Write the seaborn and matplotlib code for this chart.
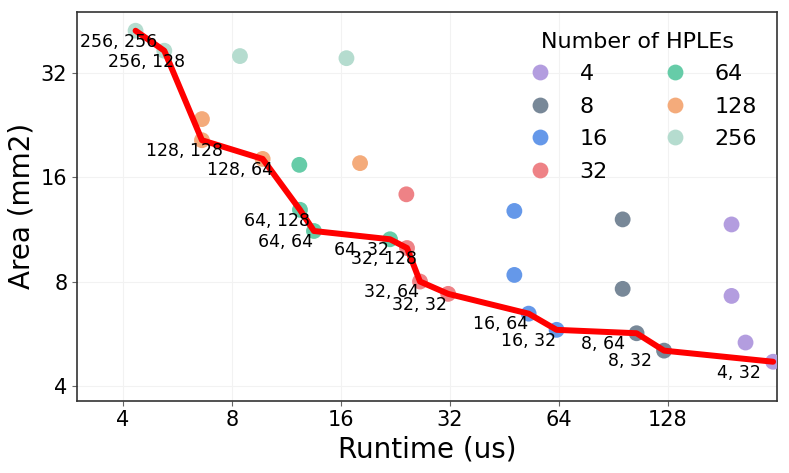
import pandas as pd
import seaborn as sns
import matplotlib
matplotlib.use("Agg")
import matplotlib.pyplot as plt

# design points: number of HPLEs, runtime (us), area (mm2)
hples = [256, 256, 256, 256,
         128, 128, 128, 128,
         64, 64, 64, 64,
         32, 32, 32, 32,
         16, 16, 16, 16,
         8, 8, 8, 8,
         4, 4, 4, 4]
runtime = [4.34, 5.21, 8.43, 16.6,
           6.62, 6.62, 9.74, 18.1,
           12.3, 12.35, 13.5, 21.9,
           24.3, 24.4, 26.5, 31.7,
           48.3, 48.3, 52.9, 63.2,
           96.2, 96.2, 105.1, 125.2,
           192.3, 192.3, 210.2, 250.5]
area = [42.5, 37.2, 35.9, 35.4,
        23.6, 20.5, 18.1, 17.6,
        17.4, 12.9, 11.2, 10.6,
        14.3, 10.0, 8.0, 7.37,
        12.8, 8.36, 6.46, 5.80,
        12.1, 7.62, 5.67, 5.05,
        11.7, 7.27, 5.33, 4.69]

# pareto frontier
front_runtime = [4.34, 5.21, 6.62, 9.74, 12.35, 13.5, 21.9, 24.4, 26.5, 31.7, 52.9, 63.2, 105.1, 125.2, 250.5]
front_area = [42.5, 37.2, 20.5, 18.1, 12.9, 11.2, 10.6, 10.0, 8.0, 7.37, 6.46, 5.80, 5.67, 5.05, 4.69]
front_labels = ["256, 256", "256, 128", "128, 128", "128, 64", "64, 128", "64, 64", "64, 32",
                "32, 128", "32, 64", "32, 32", "16, 64", "16, 32", "8, 64", "8, 32", "4, 32"]

hple_order = ["4", "8", "16", "32", "64", "128", "256"]
colors = ["#b39ddf", "#788898", "#6598e9", "#ee8286", "#66cca8", "#f4ab7b", "#b5dccf"]
x_ticks = [4, 8, 16, 32, 64, 128]
y_ticks = [4, 8, 16, 32]

sns.set_style("white", rc={'text.color': 'black', 'axes.labelcolor': 'black',
                           'xtick.color': 'black', 'ytick.color': 'black'})
plt.rcParams['font.family'] = ['DejaVu Sans']

df = pd.DataFrame({'hple': [str(h) for h in hples], 'runtime': runtime, 'area': area})
front = pd.DataFrame({'runtime': front_runtime, 'area': front_area})

fig, ax = plt.subplots(figsize=(7.89, 4.73), dpi=100)
fig.subplots_adjust(left=0.0976, right=0.9848, bottom=0.153, top=0.975)

sns.scatterplot(data=df, x='runtime', y='area', hue='hple', hue_order=hple_order,
                palette=dict(zip(hple_order, colors)), s=130, linewidth=0, ax=ax, zorder=3)
sns.lineplot(data=front, x='runtime', y='area', color='red', lw=4.3, sort=False,
             estimator=None, ax=ax, zorder=4)

for x, y, lab in zip(front_runtime, front_area, front_labels):
    ax.text(x * 0.7, y * 0.9, lab, fontsize=12.5, color='black', zorder=5)

ax.set_xscale('log', base=2)
ax.set_yscale('log', base=2)
ax.set_xlim(2.99, 256.8)
ax.set_ylim(3.62, 48.2)
ax.set_xticks(x_ticks)
ax.set_xticklabels([str(t) for t in x_ticks])
ax.set_yticks(y_ticks)
ax.set_yticklabels([str(t) for t in y_ticks])
ax.minorticks_off()
ax.tick_params(axis='both', labelsize=15, length=3.5, color='#666666', labelcolor='black',
               direction='out', bottom=True, left=True)
ax.grid(True, color='#f2f2f2', lw=0.8)
ax.set_axisbelow(True)
for sp in ax.spines.values():
    sp.set_color('#333333')
    sp.set_linewidth(1.2)

ax.set_xlabel('Runtime (us)', fontsize=20, color='black')
ax.set_ylabel('Area (mm2)', fontsize=20, color='black')

sns.move_legend(ax, 'upper right', ncol=2, frameon=False, title='Number of HPLEs',
                fontsize=16, title_fontsize=16, labelspacing=0.56)
for t in ax.get_legend().get_texts():
    t.set_color('black')
ax.get_legend().get_title().set_color('black')

fig.savefig('out.png', dpi=100)
